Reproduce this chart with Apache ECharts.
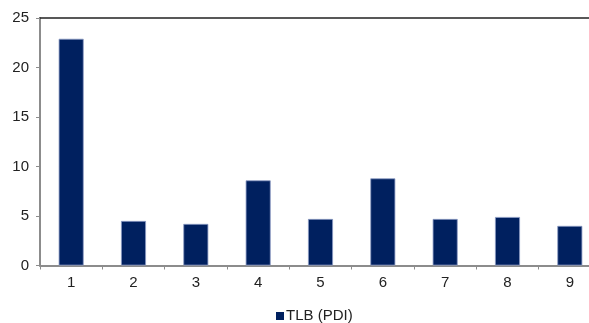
<!DOCTYPE html>
<html>
<head>
<meta charset="utf-8">
<script src="https://cdn.jsdelivr.net/npm/echarts@6/dist/echarts.min.js"></script>
<style>
  html, body { margin: 0; padding: 0; background: #ffffff; }
  #chart { width: 589px; height: 323px; }
</style>
</head>
<body>
<div id="chart"></div>
<script>
// Categories along the x axis
const categories = ['1', '2', '3', '4', '5', '6', '7', '8', '9'];
// TLB (PDI) values per category
const tlbValues = [22.9, 4.5, 4.2, 8.6, 4.7, 8.8, 4.7, 4.9, 4.0];
const seriesName = 'TLB (PDI)';
// Value axis range and step
const yMin = 0;
const yMax = 25;
const yStep = 5;

const font = '"Liberation Sans", Arial, sans-serif';
const chart = echarts.init(document.getElementById('chart'), null, { renderer: 'canvas' });

chart.setOption({
  animation: false,
  backgroundColor: '#ffffff',
  // plot area runs past the right edge of the canvas
  grid: { left: 40, top: 18, width: 561, bottom: 57.5, containLabel: false, outerBoundsMode: 'none' },
  legend: {
    data: [seriesName],
    left: 276,
    top: 308.5,
    padding: 0,
    icon: 'rect',
    itemWidth: 8,
    itemHeight: 8,
    itemGap: 4,
    itemStyle: { borderWidth: 0 },
    textStyle: { fontFamily: font, fontSize: 15, color: '#222', padding: [0, 0, 0, -3] }
  },
  xAxis: [
    {
      type: 'category',
      data: categories,
      position: 'bottom',
      axisLine: { lineStyle: { color: '#8c8c8c', width: 2 } },
      axisTick: { show: true, length: 4, alignWithLabel: false, lineStyle: { color: '#8c8c8c' } },
      axisLabel: { fontFamily: font, fontSize: 15, color: '#222', margin: 10 },
      splitLine: { show: false }
    },
    {
      // top border of the plot area
      type: 'category',
      data: categories,
      position: 'top',
      axisLine: { lineStyle: { color: '#222', width: 1.5 } },
      axisTick: { show: false },
      axisLabel: { show: false },
      splitLine: { show: false }
    }
  ],
  yAxis: {
    type: 'value',
    min: yMin,
    max: yMax,
    interval: yStep,
    axisLine: { show: true, lineStyle: { color: '#8c8c8c', width: 2 } },
    axisTick: { show: true, length: 4, lineStyle: { color: '#8c8c8c' } },
    axisLabel: { fontFamily: font, fontSize: 15, color: '#222', margin: 11 },
    splitLine: { show: false }
  },
  series: [
    {
      name: seriesName,
      type: 'bar',
      data: tlbValues,
      barWidth: 25,
      itemStyle: { color: '#00205f', borderColor: '#8b9bc4', borderWidth: 0.8 }
    }
  ]
});
</script>
</body>
</html>
